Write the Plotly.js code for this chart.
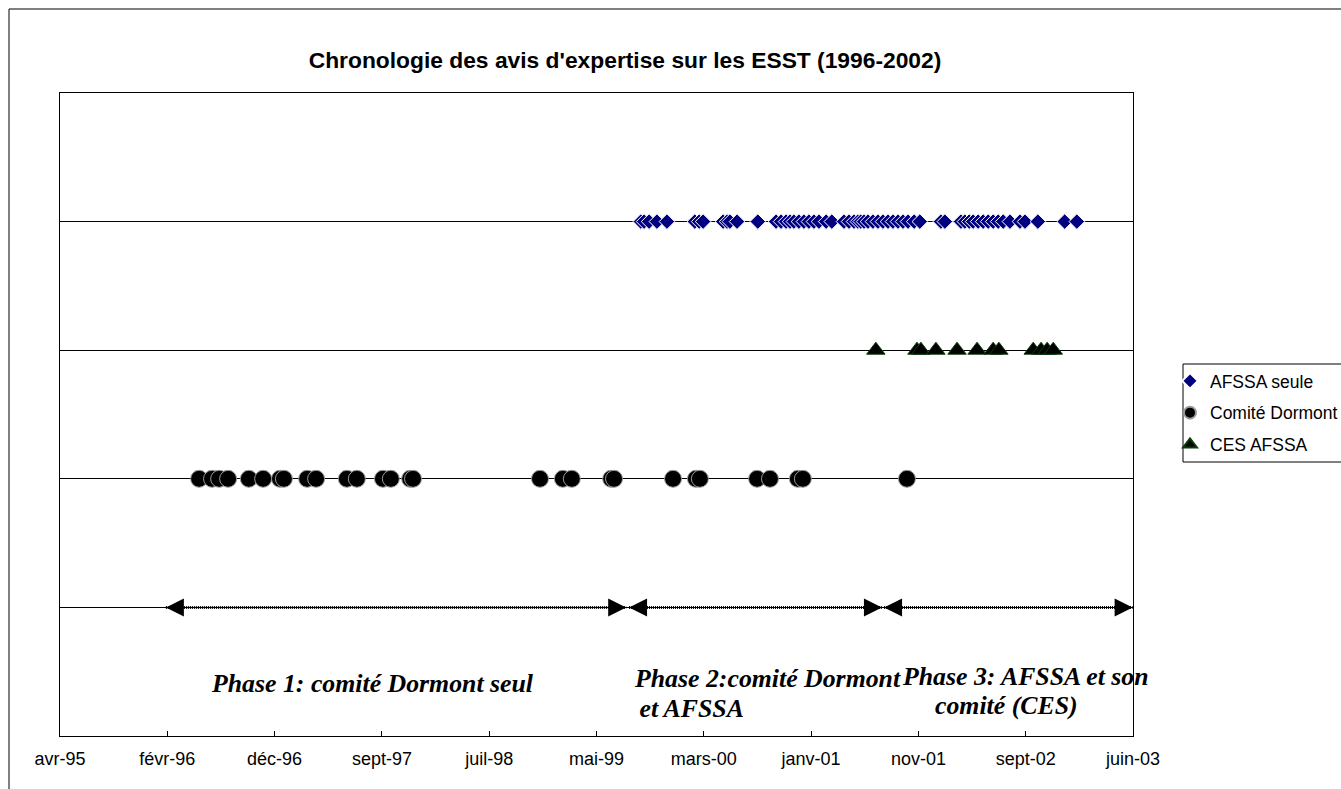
<!DOCTYPE html>
<html>
<head>
<meta charset="utf-8">
<script src="https://cdn.plot.ly/plotly-3.0.1.min.js"></script>
<style>html,body{margin:0;padding:0;background:#fff;}#chart{width:1341px;height:789px;}</style>
</head>
<body>
<div id="chart"></div>
<script>
// ---- Data (dates) ----
const afssaDates = [
  "1999-09-21","1999-09-30","1999-10-14","1999-11-05","1999-12-03",
  "2000-02-19","2000-03-02","2000-03-13",
  "2000-05-08","2000-05-19","2000-05-27","2000-06-16",
  "2000-08-13",
  "2000-10-03","2000-10-17","2000-10-31","2000-11-11","2000-11-22","2000-12-06","2000-12-20",
  "2001-01-03","2001-01-17","2001-01-31","2001-02-20","2001-03-08",
  "2001-04-11","2001-04-25","2001-05-09","2001-05-20","2001-05-28","2001-06-06","2001-06-17",
  "2001-07-01","2001-07-15","2001-07-29","2001-08-12","2001-08-26","2001-09-09","2001-09-23",
  "2001-10-07","2001-10-24","2001-11-09",
  "2002-01-07","2002-01-18",
  "2002-03-04","2002-03-15","2002-03-27","2002-04-07","2002-04-21","2002-05-05","2002-05-19",
  "2002-06-02","2002-06-16","2002-06-30","2002-07-19","2002-08-16","2002-08-30","2002-10-05",
  "2002-12-19","2003-01-22"
];
const dormontDates = [
  "1996-05-04","1996-06-09","1996-06-29","1996-07-24",
  "1996-09-20","1996-10-30","1996-12-16","1996-12-27",
  "1997-03-02","1997-03-27","1997-06-21","1997-07-19",
  "1997-09-30","1997-10-22","1997-12-15","1997-12-23",
  "1998-12-13","1999-02-15","1999-03-12","1999-06-30","1999-07-08",
  "1999-12-20","2000-02-22","2000-03-04",
  "2000-08-11","2000-09-16","2000-12-03","2000-12-17",
  "2001-10-04"
];
const cesDates = [
  "2001-07-09","2001-11-01","2001-11-12","2001-12-24",
  "2002-02-21","2002-04-18","2002-06-02","2002-06-18",
  "2002-09-22","2002-10-14","2002-10-31","2002-11-17"
];
// row levels on the (hidden) y scale
const afssaLevel = 4, cesLevel = 3, dormontLevel = 2, phaseLevel = 1;

const seriesNames = ["AFSSA seule", "Comité Dormont", "CES AFSSA"];

const phaseStart = ["1996-02-01", "1999-08-19", "2001-08-01"];
const phaseEnd   = ["1999-08-11", "2001-07-26", "2003-06-27"];
const phaseLabelLines = [
  ["Phase 1: comité Dormont seul"],
  ["Phase 2:comité Dormont", " et AFSSA"],
  ["Phase 3: AFSSA et son", "comité (CES)"]
];

const tickDates  = ["1995-04-11","1996-02-05","1996-12-01","1997-09-27","1998-07-24","1999-05-20",
                    "2000-03-15","2001-01-09","2001-11-05","2002-09-01","2003-06-28"];
const tickLabels = ["avr-95","févr-96","déc-96","sept-97","juil-98","mai-99",
                    "mars-00","janv-01","nov-01","sept-02","juin-03"];

const chartTitle = "Chronologie des avis d'expertise sur les ESST (1996-2002)";

// ---- Traces ----
const rep = (v, n) => Array.from({length: n}, () => v);

const traces = [
  {
    type: "scatter", mode: "markers", name: seriesNames[0], legendgroup: "a",
    x: afssaDates, y: rep(afssaLevel, afssaDates.length),
    marker: {symbol: "diamond", size: 12, color: "#000080", line: {color: "#ffffff", width: 1}}
  },
  {
    type: "scatter", mode: "markers", name: seriesNames[1], legendgroup: "b",
    x: dormontDates, y: rep(dormontLevel, dormontDates.length),
    marker: {symbol: "circle", size: 17, color: "#000000", line: {color: "#9a9a9a", width: 1}}
  },
  {
    type: "scatter", mode: "markers", name: seriesNames[2], legendgroup: "c",
    x: cesDates, y: rep(cesLevel, cesDates.length),
    marker: {symbol: "triangle-up", size: 16, color: "#000000", line: {color: "#0b3d0b", width: 1}}
  }
];

// phase lines (dotted/hatched)
phaseStart.forEach((s, i) => {
  traces.push({
    type: "scatter", mode: "lines", showlegend: false, hoverinfo: "skip",
    x: [s, phaseEnd[i]], y: [phaseLevel, phaseLevel],
    line: {color: "#000000", width: 3, dash: "1px,1px"}
  });
});

// ---- Annotations ----
const annotations = [];
phaseStart.forEach((s, i) => {
  annotations.push({x: s, y: phaseLevel, xref: "x", yref: "y", ax: 10, ay: 0,
    showarrow: true, arrowhead: 2, arrowsize: 1.8, arrowwidth: 2, arrowcolor: "#000", text: ""});
  annotations.push({x: phaseEnd[i], y: phaseLevel, xref: "x", yref: "y", ax: -10, ay: 0,
    showarrow: true, arrowhead: 2, arrowsize: 1.8, arrowwidth: 2, arrowcolor: "#000", text: ""});
});

const L = 60, R = 1133, T = 93, B = 736;
const px = v => (v - L) / (R - L);
const py = v => (B - v) / (B - T);
const labelPos = [
  [{x: 372, y: 683, anchor: "center"}],
  [{x: 632, y: 678, anchor: "left"}, {x: 631, y: 708, anchor: "left"}],
  [{x: 900, y: 676, anchor: "left"}, {x: 933, y: 705, anchor: "left"}]
];
phaseLabelLines.forEach((lines, i) => {
  lines.forEach((t, j) => {
    const p = labelPos[i][j];
    annotations.push({
      xref: "paper", yref: "paper", x: px(p.x), y: py(p.y), xanchor: p.anchor, yanchor: "middle",
      showarrow: false, text: "<b><i>" + t + "</i></b>",
      font: {family: "Liberation Serif, Times New Roman, serif", size: 25.8, color: "#000"}
    });
  });
});

const layout = {
  width: 1341, height: 789,
  paper_bgcolor: "#ffffff", plot_bgcolor: "#ffffff",
  margin: {l: L, r: 1341 - R, t: T, b: 789 - B, autoexpand: false},
  title: {
    text: "<b>" + chartTitle + "</b>",
    x: 625 / 1341, xref: "container", xanchor: "center",
    y: 1 - 60 / 789, yref: "container", yanchor: "middle",
    font: {family: "Liberation Sans, Arial, sans-serif", size: 22.8, color: "#000"}
  },
  font: {family: "Liberation Sans, Arial, sans-serif", color: "#000"},
  xaxis: {
    type: "date", range: [tickDates[0], tickDates[tickDates.length - 1]],
    tickmode: "array", tickvals: tickDates, ticktext: tickLabels,
    tickfont: {size: 18, color: "#000"},
    ticks: "inside", ticklen: 5, tickcolor: "#000",
    ticklabelstandoff: 6,
    showgrid: false, zeroline: false,
    showline: true, linecolor: "#000", linewidth: 1, mirror: true
  },
  yaxis: {
    range: [0, 5], dtick: 1, tick0: 0,
    showticklabels: false, ticks: "",
    showgrid: true, gridcolor: "#000", gridwidth: 1,
    zeroline: false,
    showline: true, linecolor: "#000", linewidth: 1, mirror: true
  },
  showlegend: true,
  legend: {
    x: px(1170), y: py(363), xanchor: "left", yanchor: "top",
    bgcolor: "rgba(0,0,0,0)", borderwidth: 0,
    font: {family: "Liberation Sans, Arial, sans-serif", size: 17.5, color: "#000"},
    tracegroupgap: 6, itemwidth: 30, itemsizing: "constant"
  },
  annotations: annotations,
  shapes: [
    // outer chart frame
    {type: "rect", xref: "paper", yref: "paper",
     x0: px(9), x1: px(1400), y0: py(800), y1: py(9),
     line: {color: "#000", width: 1}, fillcolor: "rgba(0,0,0,0)", layer: "below"},
    // legend box
    {type: "rect", xref: "paper", yref: "paper",
     x0: px(1183), x1: px(1400), y0: py(462), y1: py(364),
     line: {color: "#000", width: 1}, fillcolor: "#ffffff", layer: "below"}
  ]
};

Plotly.newPlot("chart", traces, layout, {displayModeBar: false, staticPlot: true});
</script>
</body>
</html>
